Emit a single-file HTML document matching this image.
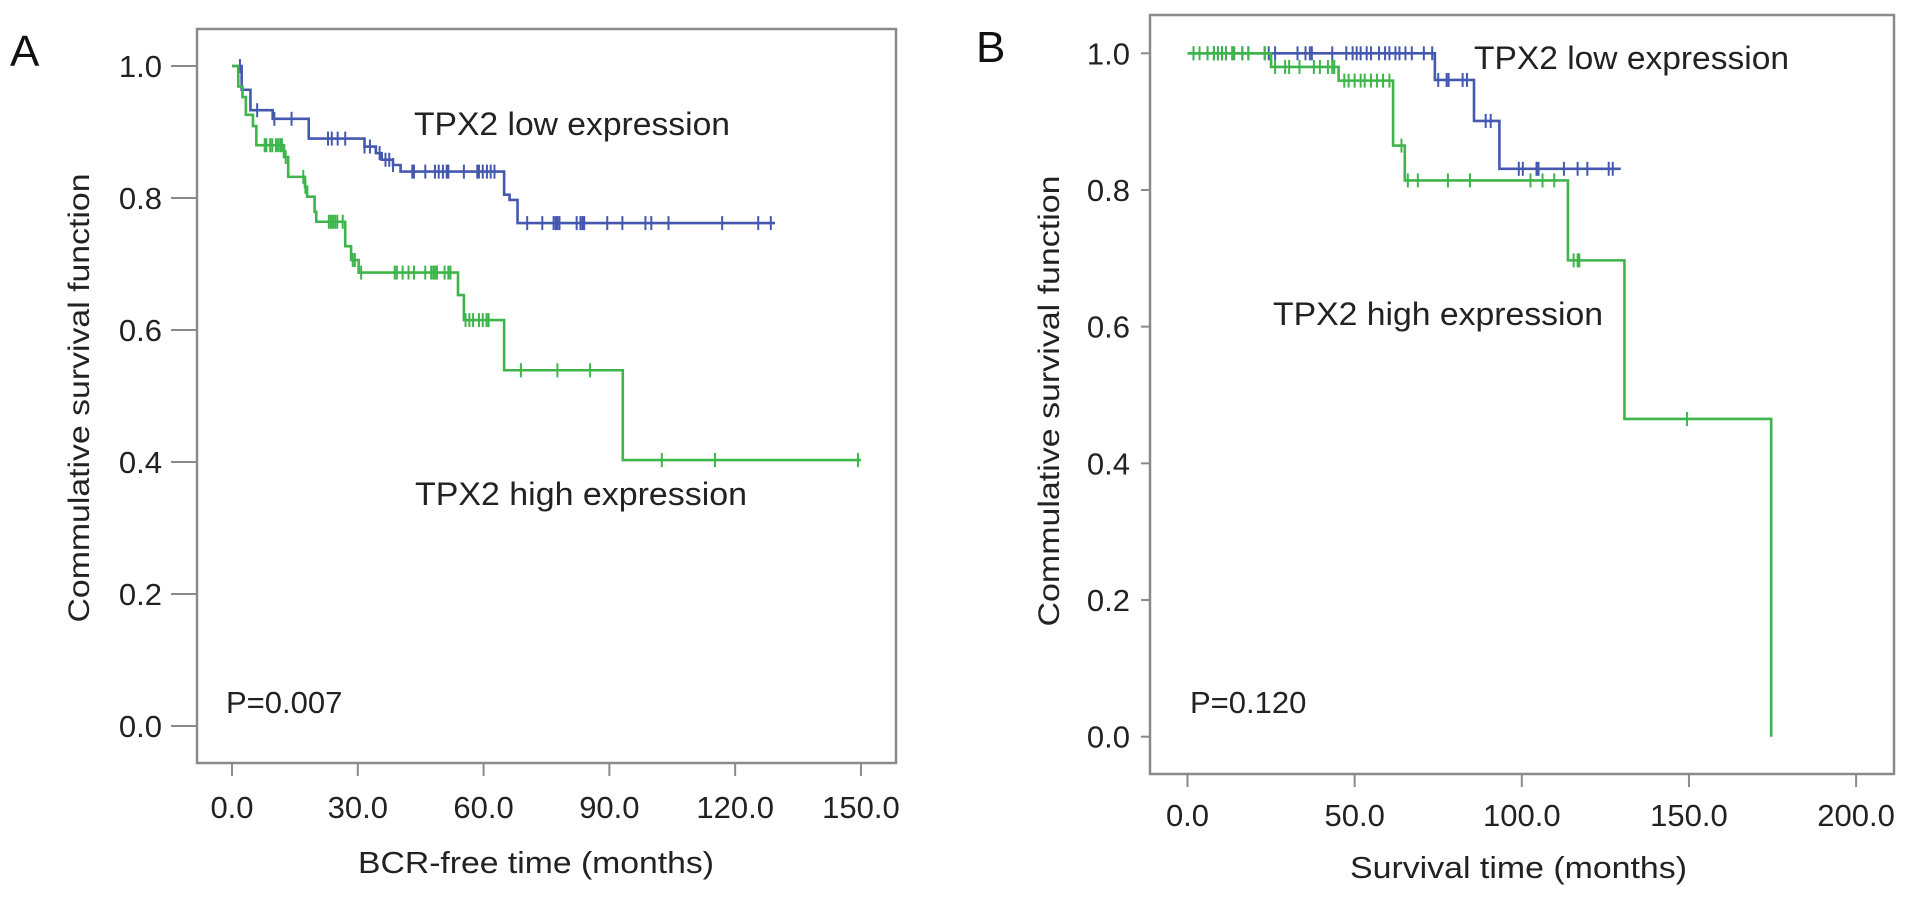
<!DOCTYPE html>
<html><head><meta charset="utf-8"><style>
html,body{margin:0;padding:0;background:#fff;}
svg{display:block;font-family:"Liberation Sans",Arial,sans-serif;}
</style></head><body>
<svg id="chart" width="1913" height="899" viewBox="0 0 1913 899">
<g id="pa"></g>
<g id="pb"></g>
</svg>
<script>
// ---- Panel A data ----
const aYTicks = [0.0, 0.2, 0.4, 0.6, 0.8, 1.0];
const aXTicks = [0, 30, 60, 90, 120, 150];
const aLowDropT = [2.3, 4.4, 9.7, 18.3, 31.6, 34.3, 35.7, 38.4, 40.2, 64.9, 66.2, 68.1];
const aLowDropV = [0.964, 0.933, 0.92, 0.89, 0.878, 0.868, 0.858, 0.85, 0.84, 0.805, 0.797, 0.762];
const aLowEnd = 129.5;
const aLowCens = [1.9,6.0,10.1,14.2,22.9,23.8,25.2,27.0,31.6,32.9,35.2,36.6,37.5,38.4,43.0,43.4,46.1,48.4,49.3,50.3,51.2,51.6,55.3,58.5,58.9,59.8,60.8,61.7,62.6,70.4,74.0,76.7,77.2,77.6,78.1,82.2,83.1,83.6,84.0,89.5,93.1,98.6,100.0,104.1,116.9,125.5,128.5];
const aHighDropT = [1.5, 2.5, 3.3, 5.0, 5.8, 12.4, 13.4, 17.4, 17.9, 19.7, 20.1, 27.0, 28.4, 30.2, 53.9, 55.3, 64.9, 93.2];
const aHighDropV = [0.969, 0.953, 0.926, 0.909, 0.88, 0.862, 0.832, 0.817, 0.802, 0.779, 0.764, 0.727, 0.706, 0.687, 0.653, 0.615, 0.539, 0.403];
const aHighEnd = 150;
const aHighCens = [7.8,8.2,9.1,9.6,10.5,11.0,11.5,11.9,12.8,17.0,17.5,23.1,23.6,24.1,24.6,25.1,26.4,28.8,29.3,30.8,38.8,39.3,40.7,42.1,43.4,46.1,47.5,48.0,48.4,48.9,50.7,51.6,52.1,55.7,56.6,57.5,58.9,59.8,60.7,61.2,68.9,77.6,85.4,102.5,115.2,149.3];
// ---- Panel B data ----
const bYTicks = [0.0, 0.2, 0.4, 0.6, 0.8, 1.0];
const bXTicks = [0, 50, 100, 150, 200];
const bLowDropT = [74.0, 85.7, 93.3];
const bLowDropV = [0.961, 0.901, 0.831];
const bLowEnd = 129.6;
const bLowCens = [1.8,6.0,7.9,9.1,10.3,11.5,13.4,16.4,18.2,23.1,24.3,26.2,32.9,35.3,36.6,37.2,43.3,47.5,49.4,50.6,51.8,53.6,54.9,57.3,59.1,60.4,62.2,63.4,65.2,67.1,70.7,73.2,75.0,77.5,78.1,82.3,83.6,89.2,90.7,99.1,100.3,104.4,105.0,112.6,116.7,119.6,126.0,127.2];
const bHighDropT = [25.0, 45.2, 61.5, 65.0, 113.8, 130.7, 174.6];
const bHighDropV = [0.98, 0.96, 0.865, 0.814, 0.697, 0.465, 0.0];
const bHighEnd = 174.6;
const bHighCens = [1.8,3.6,6.0,7.9,9.1,10.3,11.5,13.4,14.0,16.4,18.2,23.1,26.2,29.2,30.4,33.5,37.8,39.6,42.0,43.3,43.9,46.9,48.2,50.0,51.8,53.0,54.9,56.7,58.5,60.4,64.0,65.9,68.9,77.9,84.5,102.6,106.2,109.7,115.5,116.7,117.2,149.4];

const NS = "http://www.w3.org/2000/svg";
const BLUE = "#4558b0", GREEN = "#3db54b", GRAY = "#8a8a8a", TXT = "#222";
function mk(parent, tag, attrs, text) {
  const e = document.createElementNS(NS, tag);
  for (const k in attrs) e.setAttribute(k, attrs[k]);
  if (text !== undefined) e.textContent = text;
  parent.appendChild(e);
  return e;
}
function levelAt(t, dT, dV) {
  let v = 1;
  for (let i = 0; i < dT.length; i++) if (dT[i] <= t) v = dV[i];
  return v;
}
function drawCurve(g, X, Y, dT, dV, end, cens, color, name) {
  let d = "M" + X(0) + " " + Y(1);
  for (let i = 0; i < dT.length; i++) d += " H" + X(dT[i]) + " V" + Y(dV[i]);
  d += " H" + X(end);
  const p = mk(g, "path", {d: d, fill: "none", stroke: color, "stroke-width": 2.6});
  
  
  cens.forEach(t => {
    const cx = X(t), cy = Y(levelAt(t, dT, dV));
    const c = mk(g, "line", {x1: cx, x2: cx, y1: cy - 7, y2: cy + 7, stroke: color, "stroke-width": 2});
    
    
  });
}
function panel(g, cfg) {
  const X = t => cfg.x0 + t * cfg.sx;
  const Y = v => cfg.y0 - v * cfg.sy;
  const box = mk(g, "rect", {x: cfg.bx, y: cfg.by, width: cfg.bw, height: cfg.bh, fill: "none", stroke: GRAY, "stroke-width": 2.5});
  
  
  cfg.yTicks.forEach(v => {
    const tl = mk(g, "line", {x1: cfg.bx - cfg.ytl, x2: cfg.bx, y1: Y(v), y2: Y(v), stroke: GRAY, "stroke-width": 2});
    
    
    const tx = mk(g, "text", {x: cfg.ylx, y: Y(v) + 11, "text-anchor": "end", "font-size": 31, fill: TXT}, v.toFixed(1));
    
    
  });
  cfg.xTicks.forEach(t => {
    const tl = mk(g, "line", {x1: X(t), x2: X(t), y1: cfg.by + cfg.bh, y2: cfg.by + cfg.bh + 13, stroke: GRAY, "stroke-width": 2});
    
    
    const tx = mk(g, "text", {x: X(t), y: cfg.xly + 11, "text-anchor": "middle", "font-size": 31, fill: TXT}, t.toFixed(1));
    
    
  });
  cfg.curves.forEach(c => drawCurve(g, X, Y, c[0], c[1], c[2], c[3], c[4], c[5]));
}
const ga = document.getElementById("pa"), gb = document.getElementById("pb");
panel(ga, {x0: 232, sx: 4.193, y0: 726, sy: 660, bx: 197, by: 29, bw: 699, bh: 734, ytl: 26, ylx: 162, xly: 807,
  yTicks: aYTicks, xTicks: aXTicks,
  curves: [[aLowDropT, aLowDropV, aLowEnd, aLowCens, BLUE, 'low-expression'],
           [aHighDropT, aHighDropV, aHighEnd, aHighCens, GREEN, 'high-expression']]});
panel(gb, {x0: 1187.5, sx: 3.343, y0: 736.7, sy: 683.4, bx: 1150, by: 15, bw: 744, bh: 759, ytl: 9, ylx: 1130, xly: 815,
  yTicks: bYTicks, xTicks: bXTicks,
  curves: [[bLowDropT, bLowDropV, bLowEnd, bLowCens, BLUE, 'low-expression'],
           [bHighDropT, bHighDropV, bHighEnd, bHighCens, GREEN, 'high-expression']]});
</script>
<svg width="0" height="0" style="position:absolute"></svg>
<script>
(function(){
  const s = document.getElementById("chart");
  const add = (tag, attrs, text, name) => {
    const e = document.createElementNS("http://www.w3.org/2000/svg", tag);
    for (const k in attrs) e.setAttribute(k, attrs[k]);
    e.textContent = text;
    
    
    s.appendChild(e);
  };
  add("text", {x: 10, y: 66, "font-size": 44, fill: "#111"}, "A", "panel-a-label");
  add("text", {x: 976, y: 62, "font-size": 44, fill: "#111"}, "B", "panel-b-label");
  add("text", {x: 0, y: 0, "font-size": 30, fill: "#222", "text-anchor": "middle", transform: "translate(89,398) rotate(-90)", textLength: 449, lengthAdjust: "spacingAndGlyphs"}, "Commulative survival function", "panel-a-y-axis-title");
  add("text", {x: 0, y: 0, "font-size": 30, fill: "#222", "text-anchor": "middle", transform: "translate(1059,401) rotate(-90)", textLength: 451, lengthAdjust: "spacingAndGlyphs"}, "Commulative survival function", "panel-b-y-axis-title");
  add("text", {x: 358, y: 873, "font-size": 31, fill: "#222", textLength: 356, lengthAdjust: "spacingAndGlyphs"}, "BCR-free time (months)", "panel-a-x-axis-title");
  add("text", {x: 1350, y: 878, "font-size": 31, fill: "#222", textLength: 337, lengthAdjust: "spacingAndGlyphs"}, "Survival time (months)", "panel-b-x-axis-title");
  add("text", {x: 414, y: 135, "font-size": 32, fill: "#222", textLength: 316, lengthAdjust: "spacingAndGlyphs"}, "TPX2 low expression", "panel-a-low-label");
  add("text", {x: 415, y: 505, "font-size": 32, fill: "#222", textLength: 332, lengthAdjust: "spacingAndGlyphs"}, "TPX2 high expression", "panel-a-high-label");
  add("text", {x: 1474, y: 69, "font-size": 32, fill: "#222", textLength: 315, lengthAdjust: "spacingAndGlyphs"}, "TPX2 low expression", "panel-b-low-label");
  add("text", {x: 1273, y: 325, "font-size": 32, fill: "#222", textLength: 330, lengthAdjust: "spacingAndGlyphs"}, "TPX2 high expression", "panel-b-high-label");
  add("text", {x: 226, y: 713, "font-size": 31, fill: "#222"}, "P=0.007", "panel-a-p-value");
  add("text", {x: 1190, y: 713, "font-size": 31, fill: "#222"}, "P=0.120", "panel-b-p-value");
})();
</script>
</body></html>
